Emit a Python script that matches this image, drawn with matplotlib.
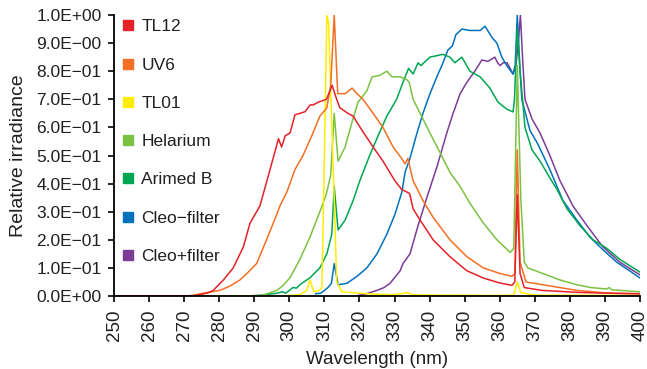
import numpy as np
import matplotlib
matplotlib.use("Agg")
import matplotlib.pyplot as plt
from matplotlib.lines import Line2D

plt.rcParams["font.family"] = ["Liberation Sans", "DejaVu Sans"]

# wavelength (nm) / relative irradiance
tl12_wl = [250, 270, 274, 277, 278.3, 281.2, 284, 286.9, 288.8, 291.6, 294.5, 296.9, 297.8, 298.8,
           300.2, 301.6, 303, 304.5, 305.9, 306.8, 308.3, 310.6, 312.2, 313.5, 314.4, 316.7, 318.2,
           320.7, 323.9, 326.7, 330.1, 332, 333.5, 334.3, 335.3, 337.3, 341, 345.8, 350.6, 355.3,
           360.1, 363.5, 364.3, 365, 365.8, 367, 372, 382, 391, 400]
tl12_val = [0, 0, 0.003, 0.012, 0.02, 0.057, 0.10, 0.175, 0.26, 0.32, 0.45, 0.56, 0.53, 0.57,
            0.58, 0.645, 0.65, 0.656, 0.68, 0.68, 0.69, 0.70, 0.75, 0.70, 0.67, 0.65, 0.64,
            0.59, 0.53, 0.48, 0.41, 0.38, 0.37, 0.365, 0.31, 0.27, 0.20, 0.14, 0.09, 0.064,
            0.046, 0.038, 0.05, 0.36, 0.08, 0.03, 0.02, 0.013, 0.01, 0.008]

uv6_wl = [250, 272, 274.5, 280.2, 283, 285.9, 287.9, 290.7, 293.5, 296.4, 297.3, 299.3, 301.6,
          303.9, 306.4, 308.7, 310.7, 311.8, 312.8, 313.8, 315.9, 317.9, 319.3, 321, 323.9, 326.7,
          329.6, 332, 333, 333.8, 335.3, 338.1, 341, 345.8, 350.6, 355.3, 360.1, 363.5, 364.3, 365,
          365.8, 367.5, 372.3, 382, 391, 400]
uv6_val = [0, 0, 0.008, 0.02, 0.035, 0.057, 0.08, 0.116, 0.20, 0.29, 0.32, 0.37, 0.45,
           0.50, 0.57, 0.64, 0.67, 0.75, 1.0, 0.72, 0.72, 0.74, 0.72, 0.70, 0.65, 0.60,
           0.53, 0.49, 0.47, 0.49, 0.41, 0.34, 0.28, 0.20, 0.14, 0.10, 0.08, 0.07, 0.08, 0.52,
           0.12, 0.05, 0.04, 0.02, 0.01, 0.008]

tl01_wl = [250, 298, 303, 305, 305.9, 307, 308.5, 309.3, 310.0, 310.7, 311.2, 312.0, 312.8, 313.5,
           315, 320, 325, 330, 333.8, 335, 345, 360, 364, 365, 366, 370, 400]
tl01_val = [0, 0, 0.005, 0.02, 0.057, 0.015, 0.02, 0.03, 0.5, 1.0, 0.97, 0.65, 0.35, 0.05,
            0.015, 0.01, 0.006, 0.005, 0.012, 0.004, 0.003, 0.002, 0.003, 0.05, 0.012, 0.003, 0.002]

helarium_wl = [250, 290, 293, 296.4, 298, 300.2, 303, 305.9, 308.7, 310.5, 311.8, 312.8, 313.9,
               315.9, 317.9, 319.6, 322.1, 323.6, 325.8, 327.8, 329.3, 331.6, 333.5, 334.2, 335.3,
               337.3, 340.1, 343, 345.8, 348.7, 351.5, 355.3, 359.2, 363, 364, 365, 366, 367, 368,
               372.3, 377.2, 382, 386, 390.5, 391.2, 392, 400]
helarium_val = [0, 0, 0.005, 0.02, 0.035, 0.065, 0.13, 0.21, 0.30, 0.36, 0.43, 0.65, 0.48,
                0.53, 0.62, 0.69, 0.73, 0.78, 0.785, 0.80, 0.78, 0.78, 0.77, 0.76, 0.70,
                0.65, 0.58, 0.51, 0.44, 0.39, 0.33, 0.26, 0.20, 0.155, 0.17, 0.82, 0.35, 0.12, 0.10,
                0.08, 0.057, 0.04, 0.03, 0.025, 0.03, 0.022, 0.015]

arimed_wl = [250, 288, 292, 296.5, 298, 299, 301, 302, 303, 305.9, 308.7, 310.7, 312.1, 312.8,
             313.9, 315.9, 318.2, 320.1, 322.9, 325.3, 327.8, 330.6, 332.4, 334, 335.3, 336.7,
             337.5, 340.1, 343.8, 345.8, 347.2, 349.2, 351.5, 354.4, 357.2, 359.5, 362, 363.8,
             364.2, 365, 365.8, 367.2, 369.2, 371.5, 374.3, 376.3, 379.2, 382.9, 386.6, 390.5,
             394.3, 400]
arimed_val = [0, 0, 0.003, 0.01, 0.015, 0.01, 0.03, 0.028, 0.04, 0.065, 0.10, 0.15, 0.22, 0.39,
              0.235, 0.27, 0.34, 0.41, 0.50, 0.57, 0.64, 0.70, 0.76, 0.81, 0.79, 0.83,
              0.82, 0.85, 0.86, 0.85, 0.83, 0.85, 0.80, 0.78, 0.74, 0.69, 0.665, 0.655,
              0.70, 0.95, 0.80, 0.60, 0.52, 0.48, 0.42, 0.38, 0.31, 0.25, 0.20, 0.17,
              0.13, 0.085]

cleo_minus_wl = [307.5, 309, 311, 312, 312.8, 313.9, 316.4, 319.3, 322.1, 325, 327.8, 330.1, 332.1,
                 333, 334.4, 336.4, 338.1, 340.1, 342.4, 343.5, 345.2, 346.5, 347.5, 349.2, 351.5,
                 354.4, 355.8, 357.8, 359.2, 360.6, 362, 363.8, 364.4, 365, 365.8, 366.3, 368.6,
                 370.9, 374.3, 378, 382, 385.7, 389.4, 393.4, 397, 400]
cleo_minus_val = [0.008, 0.01, 0.03, 0.045, 0.115, 0.04, 0.045, 0.07, 0.10, 0.15, 0.22, 0.29, 0.37,
                  0.44, 0.49, 0.58, 0.65, 0.72, 0.79, 0.82, 0.875, 0.89, 0.93, 0.95, 0.945,
                  0.945, 0.96, 0.92, 0.90, 0.85, 0.82, 0.79, 0.82, 1.0, 0.80, 0.70, 0.59,
                  0.54, 0.45, 0.34, 0.27, 0.21, 0.165, 0.12, 0.09, 0.064]

cleo_plus_wl = [319.6, 322, 325, 327, 328.7, 330, 331.6, 332.4, 334.4, 336.7, 339.2, 342.1, 344.9,
                346.7, 348.7, 350.6, 352.9, 354.9, 356.6, 358.6, 359.4, 360.1, 361, 362.1, 363.8,
                364.6, 365.3, 365.9, 366.5, 367.2, 369.2, 371.5, 374.3, 377.2, 380.9, 384.9, 389.4,
                394.3, 400]
cleo_plus_val = [0.002, 0.008, 0.02, 0.03, 0.045, 0.065, 0.09, 0.115, 0.15, 0.25, 0.35, 0.46, 0.58,
                 0.65, 0.72, 0.76, 0.80, 0.84, 0.835, 0.85, 0.83, 0.82, 0.83, 0.83, 0.79,
                 0.82, 0.9, 1.0, 0.85, 0.70, 0.63, 0.58, 0.50, 0.41, 0.32, 0.25, 0.175,
                 0.12, 0.075]

names = ["TL12", "UV6", "TL01", "Helarium", "Arimed B", "Cleo\u2212filter", "Cleo+filter"]
colors = ["#e42228", "#f26f23", "#ffed00", "#7cc242", "#00a651", "#0072bc", "#7b3c97"]
series = [(tl12_wl, tl12_val), (uv6_wl, uv6_val), (tl01_wl, tl01_val), (helarium_wl, helarium_val),
          (arimed_wl, arimed_val), (cleo_minus_wl, cleo_minus_val), (cleo_plus_wl, cleo_plus_val)]

yticks = np.arange(0, 1.01, 0.1)
ylabels = ["0.0E+00", "1.0E\u221201", "2.0E\u221201", "3.0E\u221201", "4.0E\u221201", "5.0E\u221201",
           "6.0E\u221201", "7.0E\u221201", "8.0E\u221201", "9.0E\u221200", "1.0E+00"]
xticks = np.arange(250, 401, 10)

text_col = "#231f20"

fig = plt.figure(figsize=(6.47, 3.69), dpi=100)
ax = fig.add_axes([114/647, 1-296/369, 526/647, 281/369])

# draw in reverse so TL12 ends up on top
for (wl, val), c in reversed(list(zip(series, colors))):
    ax.plot(wl, val, color=c, lw=1.1, solid_joinstyle="round")

ax.set_xlim(250, 400)
ax.set_ylim(0, 1.0)
ax.set_xticks(xticks)
ax.set_xticklabels([str(t) for t in xticks], rotation=90, fontsize=13.5, color=text_col)
ax.set_yticks(yticks)
ax.set_yticklabels(ylabels, fontsize=12.5, color=text_col)
ax.tick_params(axis="both", direction="out", length=4, width=1.2, color="black")
ax.tick_params(axis="y", pad=5)
ax.tick_params(axis="x", pad=6)
for s in ["top", "right"]:
    ax.spines[s].set_visible(False)
for s in ["left", "bottom"]:
    ax.spines[s].set_linewidth(1.3)

ax.set_xlabel("Wavelength (nm)", fontsize=13.5, labelpad=7, color=text_col)
ax.set_ylabel("Relative irradiance", fontsize=14, labelpad=7, color=text_col)

handles = [Line2D([], [], ls="none", marker="s", markersize=7, color=c) for c in colors]
ax.legend(handles, names, loc="upper left", bbox_to_anchor=(0.0156, 0.985), frameon=False,
          fontsize=12.5, handlelength=0.7, handletextpad=0.4, labelspacing=1.33,
          borderpad=0, borderaxespad=0, labelcolor=text_col)

fig.savefig("out.png", dpi=100)
